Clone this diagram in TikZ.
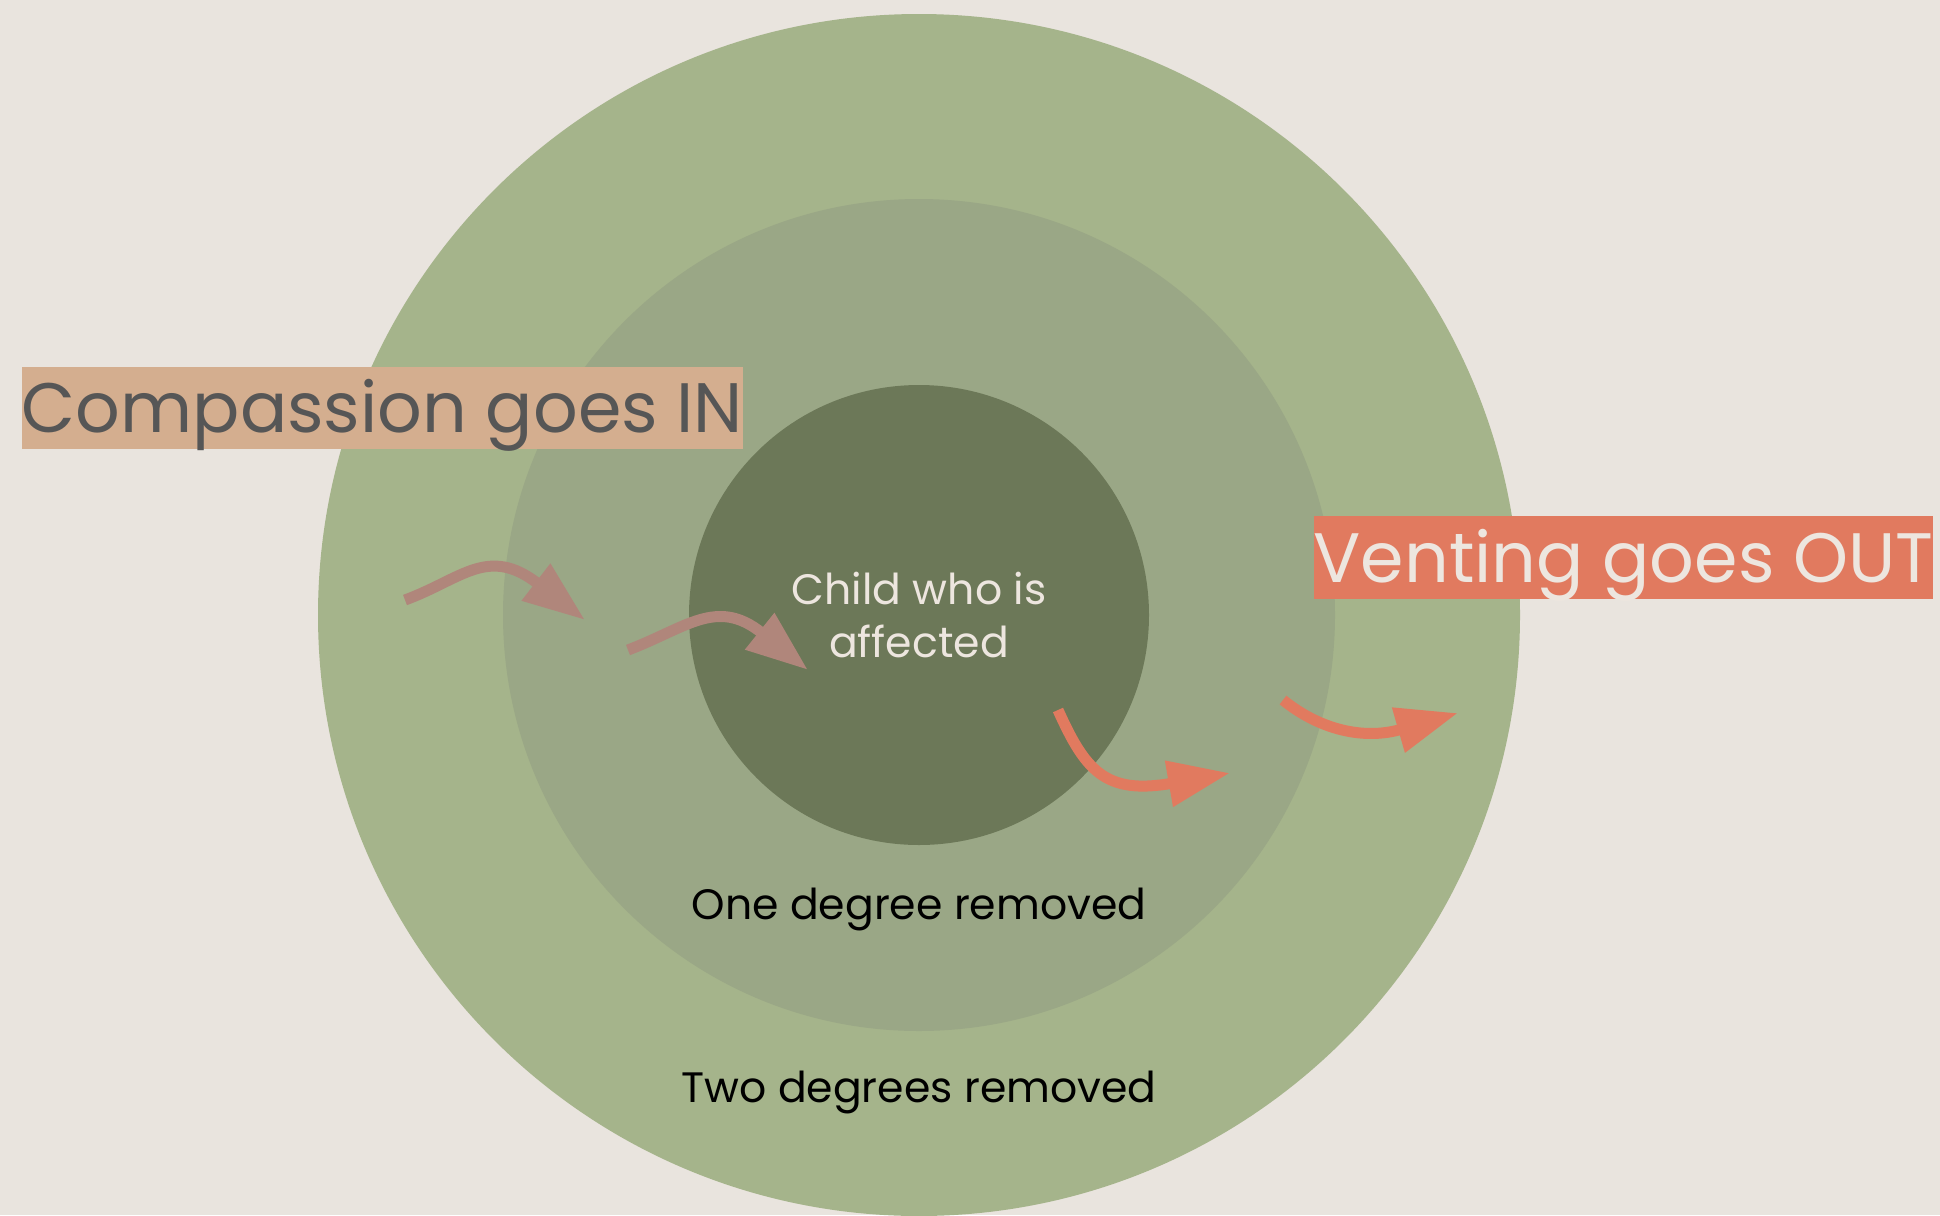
\documentclass[tikz,border=0pt]{standalone}
\usepackage{fontspec}
\setmainfont{Poppins}
\usetikzlibrary{arrows.meta}
\definecolor{bg}{HTML}{E9E4DE}
\definecolor{ringout}{HTML}{A5B48B}
\definecolor{ringmid}{HTML}{9AA786}
\definecolor{ringin}{HTML}{6C7858}
\definecolor{compbox}{HTML}{D4AE8F}
\definecolor{comptext}{HTML}{565656}
\definecolor{ventbox}{HTML}{E17A5F}
\definecolor{cream}{HTML}{EDE6DF}
\definecolor{pinkarrow}{HTML}{B0867B}
\definecolor{orangearrow}{HTML}{E17A5F}
\tikzset{
  bigarrow/.style={line width=0.11cm, -{Triangle[length=0.62cm,width=0.44cm]}},
  inarrow/.style={bigarrow, draw=pinkarrow},
  outarrow/.style={bigarrow, draw=orangearrow},
  label/.style={font=\fontsize{12.1pt}{14.8pt}\selectfont, align=center, inner sep=0pt},
  banner/.style={font=\fontsize{19.9pt}{24pt}\selectfont, inner sep=0pt, anchor=center,
    text height=0.66cm, text depth=0.165cm},
}
\begin{document}
\begin{tikzpicture}[x=0.01cm,y=-0.01cm]
\useasboundingbox (0,0) rectangle (1940,1215);
\fill[bg] (0,0) rectangle (1940,1215);
\fill[ringout] (919,615) circle[radius=601];
\fill[ringmid] (919,615) circle[radius=416];
\fill[ringin] (919,615) circle[radius=230];

\node[label, text=cream] (child) at (919,615) {Child who is\\affected};
\node[label, text=black] (one) at (919,909) {One degree removed};
\node[label, text=black] (two) at (919,1092) {Two degrees removed};

\node[banner, fill=compbox, text=comptext, minimum width=7.19cm] (comp) at (382.5,408) {Compassion goes IN};
\node[banner, fill=ventbox, text=cream, minimum width=6.19cm] (vent) at (1623.5,557.5) {Venting goes OUT};

\coordinate (a1s) at (405,600);
\coordinate (a1e) at (585,620);
\coordinate (a2s) at (628,650);
\coordinate (a2e) at (808,670);
\coordinate (a3s) at (1058,710);
\coordinate (a3e) at (1230,773);
\coordinate (a4s) at (1283,700);
\coordinate (a4e) at (1458,713);

\draw[inarrow] (a1s) .. controls (462,579) and (488,545) .. (a1e);
\draw[inarrow] (a2s) .. controls (686,628) and (717,597) .. (a2e);
\draw[outarrow] (a3s) .. controls (1085,770) and (1105,795) .. (a3e);
\draw[outarrow] (a4s) .. controls (1320,730) and (1364,740) .. (a4e);
\end{tikzpicture}
\end{document}
